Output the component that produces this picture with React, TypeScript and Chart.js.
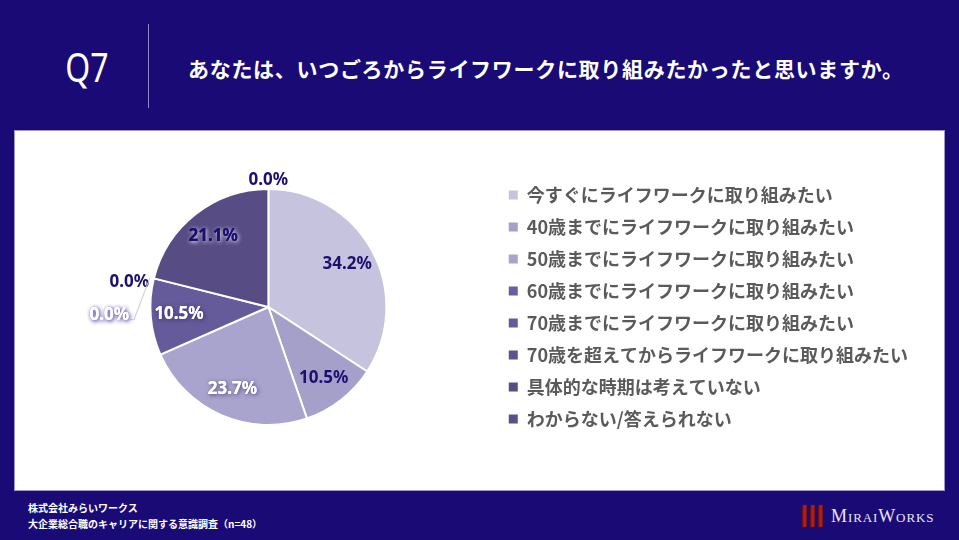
import { useEffect, useRef } from "react";
import Chart from "chart.js/auto";

// 回答選択肢（凡例の並び順＝円グラフの並び順）
const categories = [
  "今すぐにライフワークに取り組みたい",
  "40歳までにライフワークに取り組みたい",
  "50歳までにライフワークに取り組みたい",
  "60歳までにライフワークに取り組みたい",
  "70歳までにライフワークに取り組みたい",
  "70歳を超えてからライフワークに取り組みたい",
  "具体的な時期は考えていない",
  "わからない/答えられない",
];

// 回答割合 (%)
const shares = [34.2, 10.5, 23.7, 0.0, 10.5, 0.0, 21.1, 0.0];

const sliceColors = [
  "#c6c3de",
  "#a5a0ca",
  "#a9a4ce",
  "#695ea1",
  "#655a9a",
  "#5d5391",
  "#574d84",
  "#5a5089",
];

const NAVY = "#1c0f72";
const BG = "#1a0a76";

// ラベル文字色・影
const labelStyles = [
  { color: NAVY, glow: "" },
  { color: NAVY, glow: "" },
  { color: "#ffffff", glow: "rgba(40,25,90,0.75)" },
  { color: NAVY, glow: "" },
  { color: "#ffffff", glow: "rgba(40,25,90,0.75)" },
  { color: "#ffffff", glow: "#6b5fb3" },
  { color: NAVY, glow: "rgba(255,255,255,0.95)" },
  { color: NAVY, glow: "" },
];

// 0% ラベルの手動位置調整 (px)
const labelNudge: Record<number, [number, number]> = {
  3: [-21, -77],
  5: [-34, 39],
  7: [0, 2],
};

const pieLabels = {
  id: "pieLabels",
  afterDatasetsDraw(chart: any) {
    const { ctx } = chart;
    const meta = chart.getDatasetMeta(0);
    ctx.save();
    ctx.font = "bold 17px 'Noto Sans', 'Noto Sans CJK JP', sans-serif";
    ctx.textAlign = "center";
    ctx.textBaseline = "middle";
    meta.data.forEach((arc: any, i: number) => {
      const { x, y, startAngle, endAngle, outerRadius } = arc.getProps(
        ["x", "y", "startAngle", "endAngle", "outerRadius"],
        true
      );
      const mid = (startAngle + endAngle) / 2;
      const zero = shares[i] === 0;
      const dist = zero ? outerRadius + 11 : outerRadius * 0.76;
      const [dx, dy] = labelNudge[i] || [0, 0];
      const lx = x + Math.cos(mid) * dist + dx;
      const ly = y + Math.sin(mid) * dist + dy;
      const text = shares[i].toFixed(1) + "%";
      const st = labelStyles[i];

      if (i === 5) {
        // 引き出し線
        const w = ctx.measureText(text).width;
        ctx.strokeStyle = "#c9c9c9";
        ctx.lineWidth = 1;
        ctx.beginPath();
        ctx.moveTo(lx + w / 2 + 1, ly + 5);
        ctx.lineTo(lx + w / 2 + 5, ly + 5);
        ctx.lineTo(x + Math.cos(mid) * (outerRadius + 4), y + Math.sin(mid) * (outerRadius + 4));
        ctx.stroke();
      }

      ctx.fillStyle = st.color;
      if (st.glow) {
        ctx.shadowColor = st.glow;
        ctx.shadowBlur = 4;
        ctx.shadowOffsetX = 1;
        ctx.shadowOffsetY = 1;
        ctx.fillText(text, lx, ly);
        if (i === 5) ctx.fillText(text, lx, ly);
      }
      ctx.shadowColor = "transparent";
      ctx.shadowBlur = 0;
      ctx.shadowOffsetX = 0;
      ctx.shadowOffsetY = 0;
      ctx.fillText(text, lx, ly);
    });
    ctx.restore();
  },
};

function PieChart() {
  const canvasRef = useRef<HTMLCanvasElement | null>(null);

  useEffect(() => {
    const canvas = canvasRef.current;
    if (!canvas) return;
    const existing = Chart.getChart(canvas);
    if (existing) existing.destroy();

    const chart = new Chart(canvas, {
      type: "pie",
      data: {
        labels: categories,
        datasets: [
          {
            data: shares,
            backgroundColor: sliceColors,
            borderColor: "#ffffff",
            borderWidth: 2,
          },
        ],
      },
      options: {
        animation: false,
        responsive: true,
        maintainAspectRatio: false,
        radius: 118,
        layout: { padding: 0 },
        plugins: {
          tooltip: { enabled: false },
          legend: {
            position: "right",
            labels: {
              boxWidth: 9,
              boxHeight: 9,
              padding: 14,
              color: "#5a5a5a",
              font: { family: "'Noto Sans CJK JP', sans-serif", size: 18, weight: "bold" },
              generateLabels: (c: any) => {
                const base = (Chart as any).overrides.pie.plugins.legend.labels.generateLabels(c);
                return base.map((l: any) => ({ ...l, lineWidth: 0, strokeStyle: "transparent" }));
              },
            },
          },
        },
      },
      plugins: [pieLabels],
    });

    return () => {
      chart.destroy();
    };
  }, []);

  return <canvas ref={canvasRef} />;
}

export default function App() {
  useEffect(() => {
    document.body.style.margin = "0";
  }, []);

  return (
    <div
      style={{
        position: "relative",
        width: 959,
        height: 540,
        background: BG,
        overflow: "hidden",
        fontFamily: "'Noto Sans CJK JP', sans-serif",
      }}
    >
      {/* ヘッダー */}
      <div
        style={{
          position: "absolute",
          left: 54,
          top: 42,
          width: 66,
          textAlign: "center",
          color: "#ffffff",
          fontFamily: "'Noto Sans', sans-serif",
          fontWeight: 400,
          fontSize: 40,
          lineHeight: "50px",
          transform: "scaleX(0.8)",
        }}
      >
        Q7
      </div>
      <div
        style={{
          position: "absolute",
          left: 148,
          top: 24,
          width: 1,
          height: 84,
          background: "#8f88c2",
        }}
      />
      <div
        style={{
          position: "absolute",
          left: 188,
          top: 54,
          color: "#ffffff",
          fontWeight: "bold",
          fontSize: 21,
          lineHeight: "28px",
          letterSpacing: 0.7,
          whiteSpace: "nowrap",
        }}
      >
        あなたは、いつごろからライフワークに取り組みたかったと思いますか。
      </div>

      {/* 白パネル */}
      <div
        style={{
          position: "absolute",
          left: 14,
          top: 130,
          width: 929,
          height: 359,
          background: "#ffffff",
          border: "1px solid #9d96cf",
        }}
      />
      <div style={{ position: "absolute", left: 42, top: 157, width: 876, height: 300 }}>
        <PieChart />
      </div>

      {/* フッター */}
      <div
        style={{
          position: "absolute",
          left: 28,
          top: 500,
          color: "#ffffff",
          fontWeight: "bold",
          fontSize: 10,
          lineHeight: "16px",
          whiteSpace: "nowrap",
        }}
      >
        <div>株式会社みらいワークス</div>
        <div>大企業総合職のキャリアに関する意識調査（n=48）</div>
      </div>

      {/* ロゴ */}
      <div style={{ position: "absolute", left: 802, top: 505, display: "flex", gap: 3 }}>
        {[0, 1, 2].map((k) => (
          <div
            key={k}
            style={{
              width: 5,
              height: 22,
              background: "linear-gradient(90deg, #5e0d10, #b3262a 55%, #6a1013)",
              transform: "skewY(-8deg)",
            }}
          />
        ))}
      </div>
      <div
        style={{
          position: "absolute",
          left: 831,
          top: 504,
          color: "#e8e6f4",
          fontFamily: "'Liberation Serif', 'DejaVu Serif', serif",
          fontSize: 18,
          lineHeight: "24px",
          fontVariant: "small-caps",
          letterSpacing: 0.9,
          whiteSpace: "nowrap",
        }}
      >
        MiraiWorks
      </div>
    </div>
  );
}
